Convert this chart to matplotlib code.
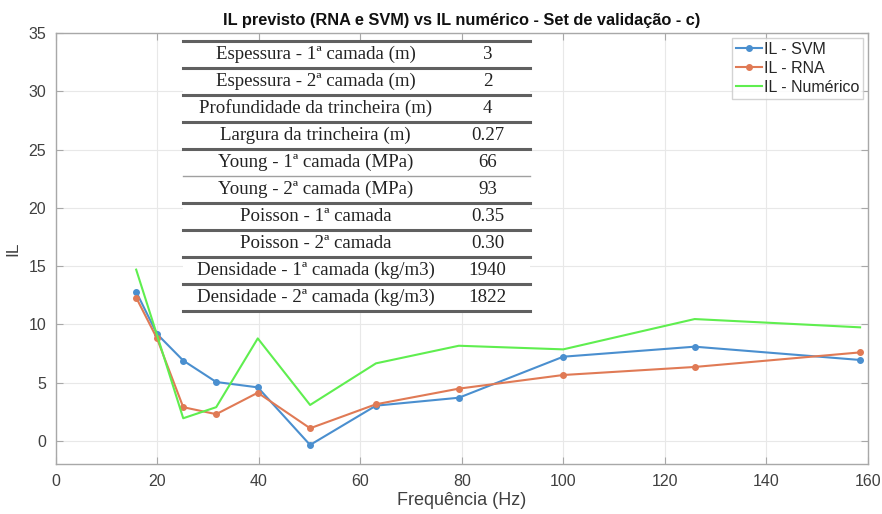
import numpy as np
import matplotlib.pyplot as plt
from matplotlib.lines import Line2D
from matplotlib.patches import Rectangle

# 1/3-octave centre frequencies (Hz)
freq = [15.85, 19.95, 25.12, 31.62, 39.81, 50.12, 63.10, 79.43, 100.0, 125.9, 158.5]

il_svm = [12.8, 9.18, 6.9, 5.06, 4.6, -0.34, 3.03, 3.71, 7.23, 8.09, 6.95]
il_rna = [12.3, 8.8, 2.9, 2.3, 4.14, 1.09, 3.15, 4.49, 5.66, 6.35, 7.6]
il_num = [14.7, 9.1, 1.95, 2.9, 8.8, 3.09, 6.66, 8.17, 7.86, 10.46, 9.75]

param_names = [
    "Espessura - 1ª camada (m)",
    "Espessura - 2ª camada (m)",
    "Profundidade da trincheira (m)",
    "Largura da trincheira (m)",
    "Young - 1ª camada (MPa)",
    "Young - 2ª camada (MPa)",
    "Poisson - 1ª camada",
    "Poisson - 2ª camada",
    "Densidade - 1ª camada (kg/m3)",
    "Densidade - 2ª camada (kg/m3)",
]
param_values = ["3", "2", "4", "0.27", "66", "93", "0.35", "0.30", "1940", "1822"]

plt.rcParams['font.family'] = ['Liberation Sans', 'DejaVu Sans']

c_svm = '#4a8fcf'
c_rna = '#e07a55'
c_num = '#5fee4f'
txt = '#404040'

fig = plt.figure(figsize=(8.82, 5.14), dpi=100)
ax = fig.add_axes([0.0632, 0.0967, 0.9206, 0.8391])

ax.plot(freq, il_svm, '-o', color=c_svm, lw=1.5, ms=4, label='IL - SVM')
ax.plot(freq, il_rna, '-o', color=c_rna, lw=1.5, ms=4, label='IL - RNA')
ax.plot(freq, il_num, '-', color=c_num, lw=1.5, label='IL - Numérico')

ax.set_xlim(0, 160)
ax.set_ylim(-2, 35)
ax.set_xticks(np.arange(0, 161, 20))
ax.set_yticks(np.arange(0, 36, 5))
ax.grid(True, color='#e8e8e8', lw=0.8)
ax.set_axisbelow(True)
for s in ax.spines.values():
    s.set_color('#a8a8a8')
    s.set_linewidth(1.0)
ax.tick_params(direction='in', length=5, top=True, right=True,
               color='#a8a8a8', labelcolor=txt, labelsize=11.5, pad=7)

ax.set_xlabel('Frequência (Hz)', fontsize=13, color=txt, labelpad=2)
ax.set_ylabel('IL', fontsize=12.5, color=txt, labelpad=6)
ax.set_title('IL previsto (RNA e SVM) vs IL numérico - Set de validação - c)',
             fontsize=11.8, fontweight='bold', color='#111111', pad=6)

leg = ax.legend(loc='upper right', fontsize=11.5, frameon=True, fancybox=False,
                handlelength=1.6, handletextpad=0.1, borderpad=0.25,
                labelspacing=0.25, borderaxespad=0.3)
leg.get_frame().set_edgecolor('#c8c8c8')
leg.get_frame().set_linewidth(1.0)
for t in leg.get_texts():
    t.set_color('#262626')

# parameter table pasted over the axes
tx0, tx1 = 0.157, 0.584
ty_top, row_h = 0.982, 0.0626
n = len(param_names)
ax.add_patch(Rectangle((tx0, ty_top - n * row_h), tx1 - tx0, n * row_h,
                       transform=ax.transAxes, facecolor='white',
                       edgecolor='none', zorder=4))
for i in range(n + 1):
    yy = ty_top - i * row_h
    thin = (i == 5)
    ax.add_line(Line2D([tx0, tx1], [yy, yy], transform=ax.transAxes,
                       color='#a0a0a0' if thin else '#606060',
                       lw=1.0 if thin else 2.2, zorder=5))
for i, (name, val) in enumerate(zip(param_names, param_values)):
    yc = ty_top - (i + 0.5) * row_h
    ax.text(0.320, yc, name, transform=ax.transAxes, ha='center', va='center',
            fontsize=13.6, family='Liberation Serif', color='#222222', zorder=6)
    ax.text(0.532, yc, val, transform=ax.transAxes, ha='center', va='center',
            fontsize=13.6, family='Liberation Serif', color='#222222', zorder=6)

fig.savefig('out.png', dpi=100)
